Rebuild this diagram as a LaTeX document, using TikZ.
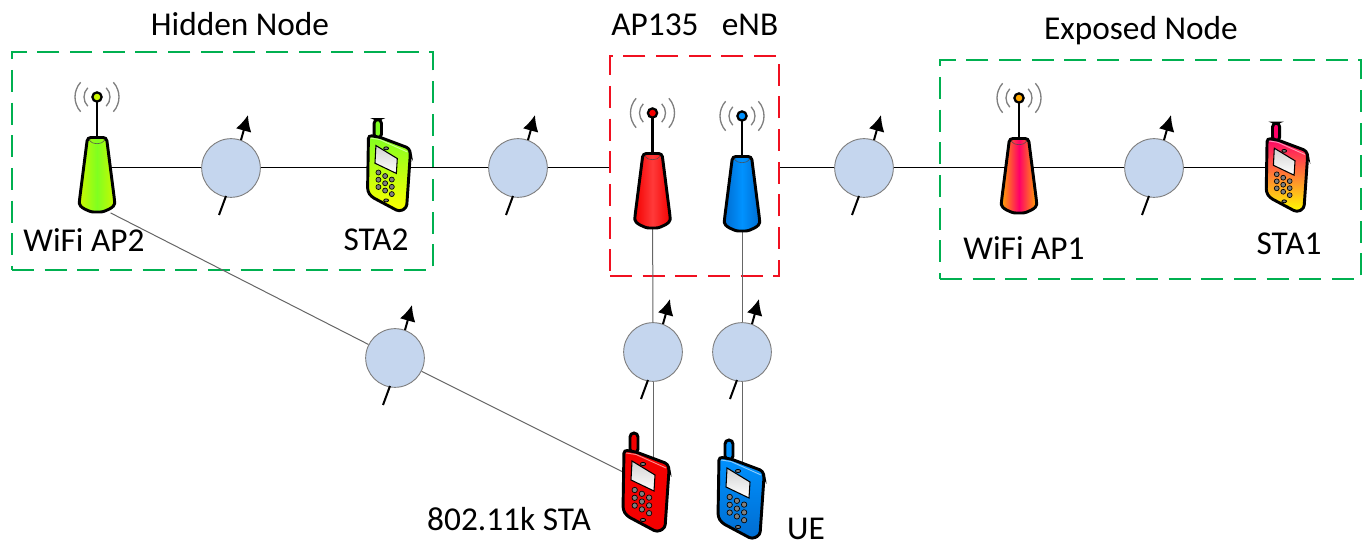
\documentclass[tikz,border=0pt]{standalone}
\usepackage{fontspec}
\setmainfont{Carlito}
\usepackage{tikz}
\usetikzlibrary{arrows.meta, positioning}
\definecolor{framegreen}{HTML}{00B050}
\definecolor{framered}{HTML}{F01020}
\definecolor{hubblue}{HTML}{C5D6EE}
\definecolor{limeedge}{HTML}{CCF800}
\definecolor{limemid}{HTML}{80FF20}
\definecolor{rededge}{HTML}{F40000}
\definecolor{redmid}{HTML}{FF3A3A}
\definecolor{blueedge}{HTML}{006CD0}
\definecolor{bluemid}{HTML}{0092FF}
\definecolor{hotedge}{HTML}{FFA800}
\definecolor{hotmid}{HTML}{FF0068}
\newcommand{\towerart}[5]{%
  \begin{scope}[shift={(#1,#2)}]
    \draw[gray,line width=1pt] (0,0) ++(-45:13) arc (-45:45:13) (0,0) ++(135:13) arc (135:225:13);
    \draw[gray,line width=1pt] (0,0) ++(-42:22) arc (-42:42:22) (0,0) ++(138:22) arc (138:222:22);
    \draw[line width=1.9pt] (0,0) -- (0,42);
    \draw[line width=1.7pt,fill=#5] (0,0) circle (4.6);
    \draw[line width=2.2pt,rounded corners=2.5pt,left color=#3,right color=#3,middle color=#4] (-9.5,40.5) -- (9.5,40.5) -- (17.5,103) .. controls (18,110) and (8,115) .. (0,115) .. controls (-8,115) and (-18,110) .. (-17.5,103) -- cycle;
    \draw[black!70,line width=0.4pt] (-8,43) .. controls (-5,48) and (5,48) .. (8,43);
  \end{scope}}
\newcommand{\phoneart}[6]{%
  \begin{scope}[shift={(#1,#2)},scale=#3]
    \draw[line width=2.2pt,rounded corners=3pt,fill=#6] (-15,-30) -- (-15,-50) -- (-7,-50) -- (-7,-30) -- cycle;
    \draw[line width=2.2pt,rounded corners=2.5pt,top color=#4,bottom color=#5] (-21,-33) -- (-9,-31) -- (23,-19) -- (24,-13) -- (20,45) -- (12,49) -- (-18,33) -- (-22,27) -- cycle;
    \draw[white,opacity=0.55,line width=0.7pt] (-19,-30) -- (-9,-28.5) -- (21,-15);
    \draw[line width=0.8pt,top color=gray!35,bottom color=white] (-13,-22) -- (10,-8) -- (9,8) -- (-14,-3) -- cycle;
    \draw[line width=0.6pt,fill=gray] (-2,-19) ellipse (2.6 and 1.6) (-2,37) ellipse (2.6 and 1.6);
    \foreach \i in {0,1,2}
      \foreach \j in {0,1,2}
        {\draw[line width=0.5pt,fill=gray] (-10.3+7.2*\i,7+3.8*\i+7.8*\j) circle (2.7);}
  \end{scope}}

\begin{document}
\begin{tikzpicture}[x=0.75pt, y=-0.75pt, >=latex,
    hub/.style={circle,draw=gray,fill=hubblue,line width=0.7pt,minimum size=44pt,inner sep=0pt},
    towerbody/.style={inner sep=0pt,minimum width=20pt,minimum height=67pt},
    phonebody/.style={inner sep=0pt,minimum width=30pt,minimum height=39pt},
    zone/.style={draw=#1,dashed,dash pattern=on 16.5pt off 8pt,line width=2pt,inner sep=0pt},
    link/.style={line width=0.75pt},
    faint/.style={line width=0.75pt,draw=black!60},
    stub/.style={line width=1.5pt},
    lbl/.style={font=\fontsize{25}{30}\selectfont,inner sep=0pt}]
  \useasboundingbox (0,0) rectangle (1367,548);
  % Zones
  \node (hidden) [zone=framegreen,minimum width=315.75pt,minimum height=163.5pt] at (222.5,161) {};
  \node (cell) [zone=framered,minimum width=126.75pt,minimum height=165pt] at (694.5,166) {};
  \node (exposed) [zone=framegreen,minimum width=315.75pt,minimum height=164.25pt] at (1150.5,169.5) {};
  % Nodes
  \node (wifiap2) [towerbody] at (97,168) {};
  \node (ap135) [towerbody] at (652.5,183) {};
  \node (enb) [towerbody] at (742,186) {};
  \node (wifiap1) [towerbody] at (1019,168) {};
  \node (sta2) [phonebody] at (388,168) {};
  \node (sta1) [phonebody] at (1286,168) {};
  \node (sta80211k) [phonebody] at (645,483) {};
  \node (ue) [phonebody] at (740,490) {};
  \foreach \name/\px/\py in {h1/231/168,h2/518/168,h3/864/168,h4/1154/168,h5/395/358,h6/653/352,h7/742/352}
    {\node (\name) [hub] at (\px,\py) {};}
  % Edges: between nodes
  \foreach \src/\dst in {wifiap2/h1,h1/sta2,sta2/h2,h3/wifiap1,wifiap1/h4,h4/sta1}
    {\draw[link] (\src) -- (\dst);}
  \draw[link] (h2) -- (h2 -| cell.west);
  \draw[link] (cell.east |- h3) -- (h3);
  \draw[faint] (wifiap2.south east) -- (h5);
  \draw[faint] (h5) -- (sta80211k);
  \draw[faint] (ap135) -- (h6);
  \draw[faint] (enb) -- (h7);
  \draw[faint] (h6) -- (h6 |- sta80211k.north);
  \draw[faint] (h7) -- (h7 |- ue.north);
  % Hub pointers
  \foreach \name in {h1,h2,h3,h4,h5,h6,h7}
    {\draw[stub] ([shift={(-5,28)}]\name.center) -- +(-7,19);
     \draw[stub,-{Latex[length=12pt,width=12pt]}] ([shift={(10,-28)}]\name.center) -- +(7,-25);}
  % Towers and phones
  \towerart{97}{97}{limeedge}{limemid}{limeedge}
  \towerart{652.5}{113}{rededge}{redmid}{rededge}
  \towerart{742}{116}{blueedge}{bluemid}{bluemid}
  \towerart{1019}{98}{hotedge}{hotmid}{hotedge}
  \phoneart{388}{166}{0.93}{limemid}{yellow}{limemid}
  \phoneart{1286}{168}{0.9}{hotmid}{yellow}{hotmid}
  \phoneart{645}{483}{1}{rededge}{rededge}{rededge}
  \phoneart{740}{490}{1}{bluemid}{blueedge}{bluemid}
  % Labels
  \node (hiddenlbl) [lbl] at (240,24) {Hidden Node};
  \node (ap135lbl) [lbl] at (655,25) {AP135};
  \node (enblbl) [lbl] at (750,25) {eNB};
  \node (exposedlbl) [lbl] at (1141,31) {Exposed Node};
  \node (wifiap2lbl) [lbl] at (84,240) {WiFi AP2};
  \node (sta2lbl) [lbl] at (376,240) {STA2};
  \node (wifiap1lbl) [lbl] at (1024,248) {WiFi AP1};
  \node (sta1lbl) [lbl] at (1289,244) {STA1};
  \node (stalbl) [lbl] at (509,519) {802.11k STA};
  \node (uelbl) [lbl] at (806,529) {UE};
\end{tikzpicture}
\end{document}
